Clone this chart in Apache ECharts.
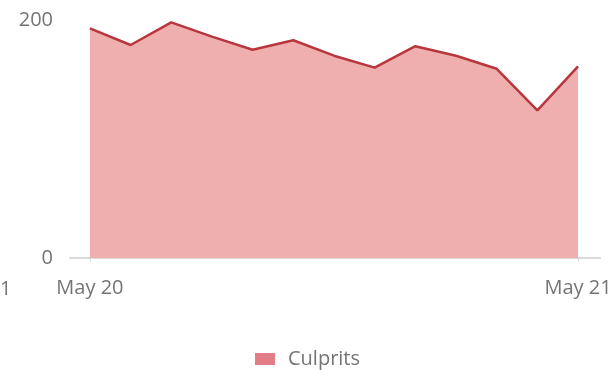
<!DOCTYPE html>
<html>
<head>
<meta charset="utf-8">
<script src="https://cdn.jsdelivr.net/npm/echarts@6/dist/echarts.min.js"></script>
<style>
  html, body { margin: 0; padding: 0; background: #fff; }
  #chart { width: 615px; height: 370px; }
</style>
</head>
<body>
<div id="chart"></div>
<script>
// Hours since May 20, 00:00 — one sample every two hours
const hours = [0, 2, 4, 6, 8, 10, 12, 14, 16, 18, 20, 22, 24];
const culprits = [193, 179, 198, 186, 175, 183, 170, 160, 178, 170, 159, 124, 161];
const tickHours = [0, 24];
const tickLabels = ['May 20', 'May 21'];

const chart = echarts.init(document.getElementById('chart'));
const font = '"Open Sans", "Noto Sans", sans-serif';
const labelColor = '#747474';

chart.setOption({
  animation: false,
  textStyle: { fontFamily: font },
  grid: { left: 70, right: 15, top: 20, bottom: 112, containLabel: false },
  xAxis: {
    type: 'value',
    min: -0.98,
    max: 25.08,
    splitLine: { show: false },
    axisLine: { show: true, lineStyle: { color: '#d9d9d9', width: 2 } },
    axisTick: { show: true, customValues: tickHours, length: 4, lineStyle: { color: '#d9d9d9' } },
    axisLabel: {
      customValues: tickHours,
      color: labelColor,
      fontSize: 20,
      fontFamily: font,
      margin: 20,
      formatter: v => tickLabels[tickHours.indexOf(v)] || ''
    }
  },
  yAxis: {
    type: 'value',
    min: 0,
    max: 200,
    interval: 200,
    splitLine: { show: false },
    axisLine: { show: false },
    axisTick: { show: false },
    axisLabel: { color: labelColor, fontSize: 20, fontFamily: font, margin: 17 }
  },
  legend: {
    top: 344,
    left: 'center',
    icon: 'rect',
    itemWidth: 20,
    itemHeight: 12,
    itemGap: 10,
    textStyle: { color: labelColor, fontSize: 20, fontFamily: font, padding: [0, 0, 0, 8] },
    data: [{ name: 'Culprits', itemStyle: { color: '#e27c85' } }]
  },
  graphic: [{
    type: 'text',
    left: 0,
    top: 279,
    style: { text: '1', fill: labelColor, font: '20px ' + font }
  }],
  series: [{
    name: 'Culprits',
    type: 'line',
    data: hours.map((h, i) => [h, culprits[i]]),
    showSymbol: false,
    itemStyle: { color: '#e27c85' },
    lineStyle: { color: '#b8363e', width: 2.5 },
    areaStyle: { color: '#f0afaf', opacity: 1 }
  }]
});
</script>
</body>
</html>
